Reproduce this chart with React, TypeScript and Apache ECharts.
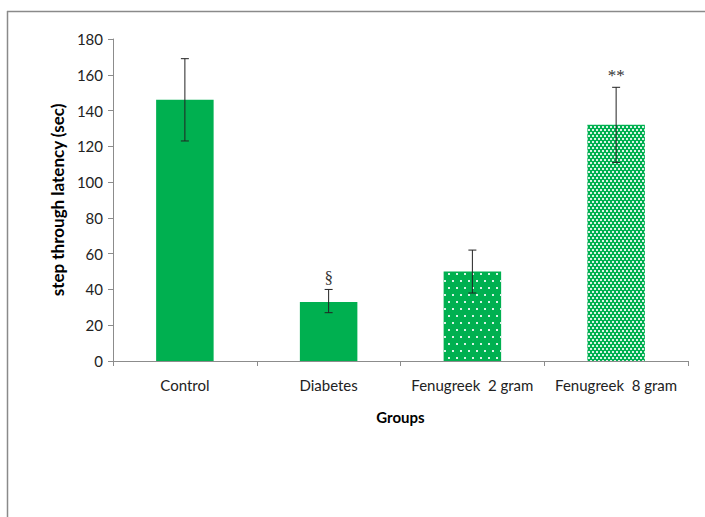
import React, { useEffect, useRef } from "react";
import * as echarts from "echarts";

const categories = ["Control", "Diabetes", "Fenugreek  2 gram", "Fenugreek  8 gram"];
const means = [146, 33, 50, 132];
const errLow = [123, 27, 38, 111];
const errHigh = [169, 40, 62, 153];
const marks = ["", "§", "", "**"];
const yTicks = { min: 0, max: 180, interval: 20 };

const GREEN = "#00B050";
const AXIS = "#8c8c8c";
const FONT = "Lato, 'Open Sans', sans-serif";

export default function App() {
  const ref = useRef<HTMLDivElement>(null);
  useEffect(() => {
    document.body.style.margin = "0";
    const chart = echarts.init(ref.current!, null, { renderer: "svg" });
    const sparse = {
      symbol: "rect",
      symbolSize: 1,
      color: "rgba(255,255,255,0.85)",
      backgroundColor: null,
      dashArrayX: [
        [2, 6],
        [0, 4, 2, 2],
      ],
      dashArrayY: [2, 5],
      rotation: 0,
    };
    const dense = {
      symbol: "rect",
      symbolSize: 1,
      color: "rgba(255,255,255,0.85)",
      backgroundColor: null,
      dashArrayX: [
        [2, 2],
        [0, 2, 2, 0],
      ],
      dashArrayY: [2, 1],
      rotation: 0,
    };
    const barData = means.map((v, i) => ({
      value: v,
      itemStyle: {
        color: GREEN,
        decal: i === 2 ? sparse : i === 3 ? dense : { symbol: "none" },
      },
    }));
    chart.setOption({
      animation: false,
      aria: { enabled: false, decal: { show: true } },
      graphic: [
        { type: "line", shape: { x1: 7, y1: 11.5, x2: 705, y2: 11.5 }, style: { stroke: "#8a8a8a", lineWidth: 1.5 } },
        { type: "line", shape: { x1: 7.5, y1: 11, x2: 7.5, y2: 517 }, style: { stroke: "#8a8a8a", lineWidth: 1.5 } },
      ],
      grid: { left: 113, right: 17, top: 39, bottom: 156 },
      xAxis: {
        type: "category",
        data: categories,
        name: "Groups",
        nameLocation: "middle",
        nameGap: 48,
        nameTextStyle: { fontFamily: FONT, fontWeight: "bold", fontSize: 15, color: "#000" },
        axisLine: { lineStyle: { color: AXIS } },
        axisTick: { show: true, length: 5, lineStyle: { color: AXIS } },
        axisLabel: { interval: 0, fontFamily: FONT, fontSize: 15, color: "#222", margin: 16 },
      },
      yAxis: {
        type: "value",
        min: yTicks.min,
        max: yTicks.max,
        interval: yTicks.interval,
        name: "step through latency (sec)",
        nameLocation: "middle",
        nameGap: 44,
        nameRotate: 90,
        nameTextStyle: { fontFamily: FONT, fontWeight: "bold", fontSize: 17, color: "#000" },
        axisLine: { show: true, lineStyle: { color: AXIS } },
        axisTick: { show: true, length: 5, lineStyle: { color: AXIS } },
        splitLine: { show: false },
        axisLabel: { fontFamily: FONT, fontSize: 15, color: "#222", margin: 10 },
      },
      series: [
        {
          type: "bar",
          data: barData,
          barWidth: "40%",
        },
        {
          type: "custom",
          data: means.map((_, i) => [i, errLow[i], errHigh[i]]),
          z: 10,
          renderItem: (params: any, api: any) => {
            const i = api.value(0);
            const lo = api.coord([i, api.value(1)]);
            const hi = api.coord([i, api.value(2)]);
            const x = lo[0];
            const cap = 4;
            const st = { stroke: "#222", lineWidth: 1 };
            const children: any[] = [
              { type: "line", shape: { x1: x, y1: lo[1], x2: x, y2: hi[1] }, style: st },
              { type: "line", shape: { x1: x - cap, y1: lo[1], x2: x + cap, y2: lo[1] }, style: st },
              { type: "line", shape: { x1: x - cap, y1: hi[1], x2: x + cap, y2: hi[1] }, style: st },
            ];
            const m = marks[params.dataIndex];
            if (m) {
              children.push({
                type: "text",
                style: {
                  text: m,
                  x: x,
                  y: hi[1] - 3,
                  align: "center",
                  verticalAlign: "bottom",
                  fontFamily: "'Liberation Serif', serif",
                  fontSize: 17,
                  fill: "#333",
                },
              });
            }
            return { type: "group", children };
          },
        },
      ],
    });
    return () => chart.dispose();
  }, []);
  return <div ref={ref} style={{ width: 705, height: 517 }} />;
}
